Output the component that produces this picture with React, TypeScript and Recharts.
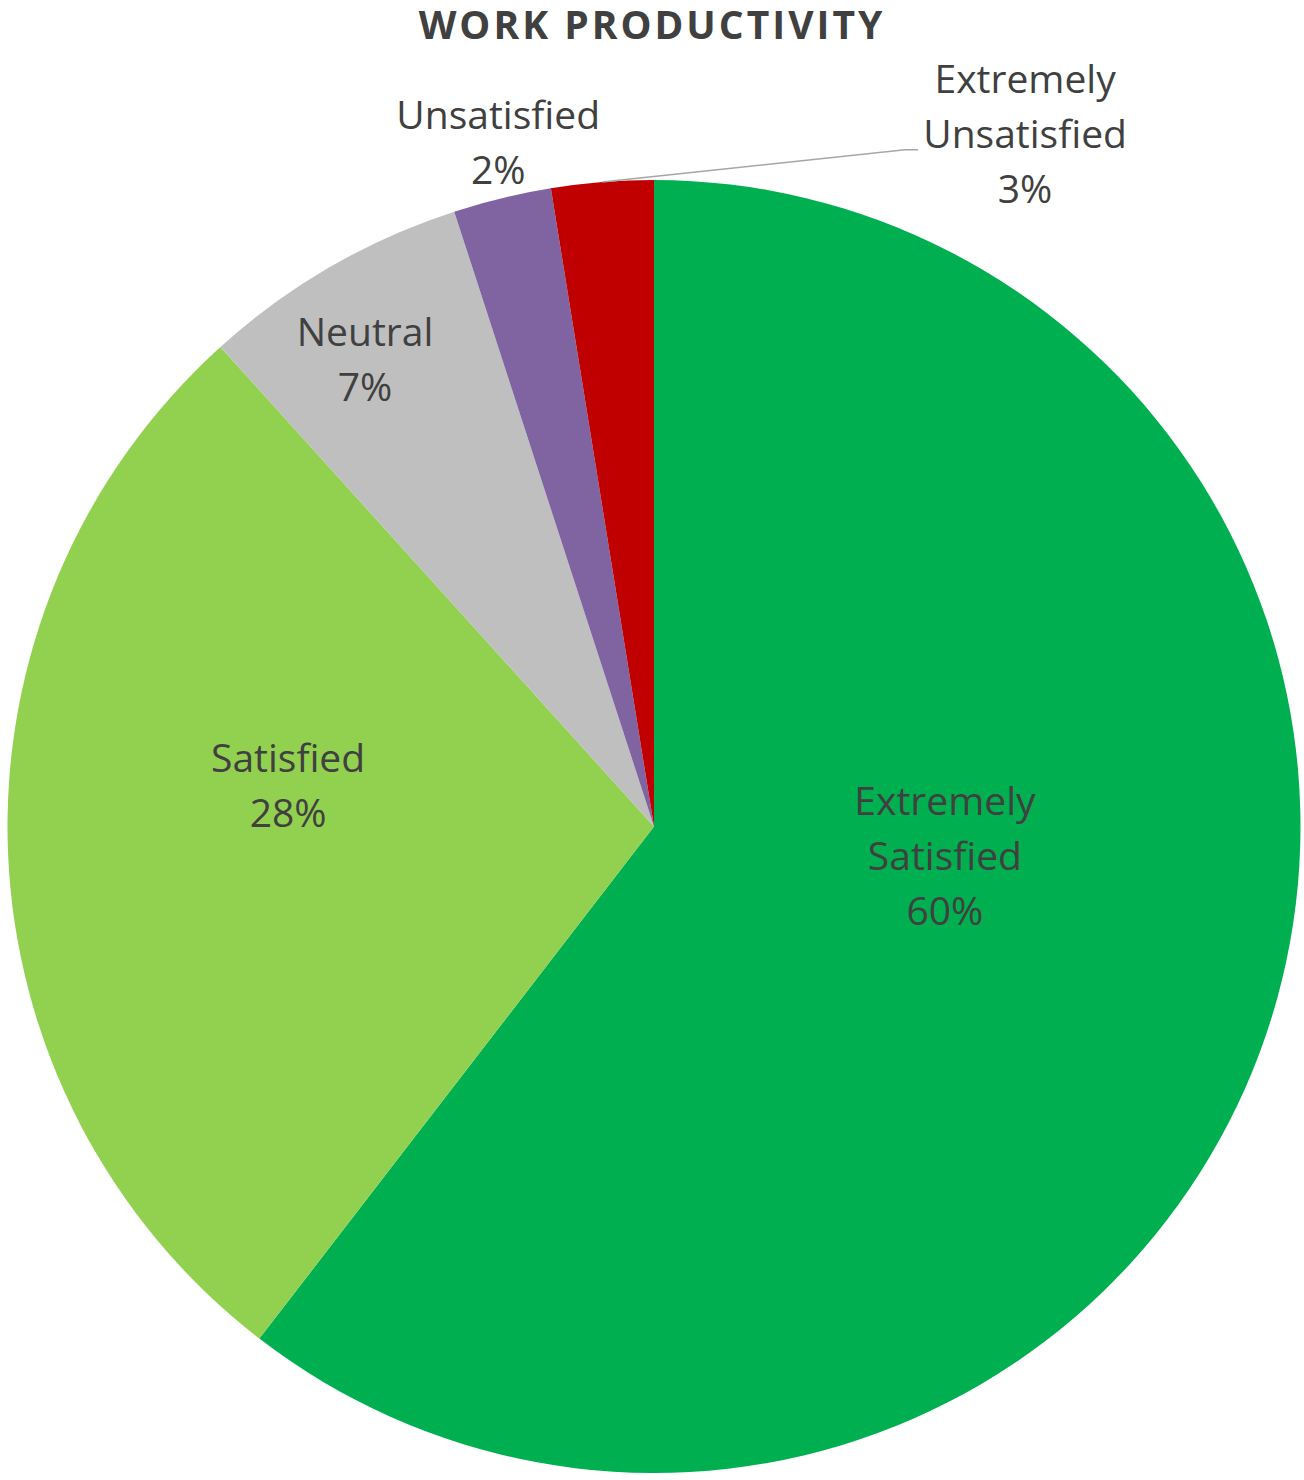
import React from 'react';
import { Cell, Pie, PieChart } from 'recharts';

const categories = ['Extremely Satisfied', 'Satisfied', 'Neutral', 'Unsatisfied', 'Extremely Unsatisfied'];
const labelLines = [['Extremely', 'Satisfied'], ['Satisfied'], ['Neutral'], ['Unsatisfied'], ['Extremely', 'Unsatisfied']];
const shares = [60.45, 27.85, 6.7, 2.45, 2.55];
const colors = ['#00B050', '#92D050', '#BFBFBF', '#8064A2', '#C00000'];

const data = categories.map((name, i) => ({ name, value: shares[i] }));
const total = shares.reduce((a, b) => a + b, 0);

// label block centres, as fractions of the outer radius from the pie centre
const labelPos = [
  [0.45, 0.044],
  [-0.566, -0.065],
  [-0.447, -0.725],
  [-0.241, -1.061],
  [0.574, -1.073],
];

const LINE_H = 55;
const RAD = Math.PI / 180;

function renderLabel(props: any) {
  const { cx, cy, outerRadius, index, midAngle, value } = props;
  const [fx, fy] = labelPos[index];
  const x = cx + fx * outerRadius;
  const y = cy + fy * outerRadius;
  const lines = [...labelLines[index], `${Math.round((value / total) * 100)}%`];
  const top = y - ((lines.length - 1) / 2) * LINE_H;
  let leader = null;
  if (index === 4) {
    const sx = cx + outerRadius * Math.cos(-midAngle * RAD);
    const sy = cy + outerRadius * Math.sin(-midAngle * RAD);
    const ex = x - 120;
    const ey = y + 17;
    leader = (
      <polyline points={`${sx},${sy} ${ex},${ey} ${ex + 13},${ey}`} fill="none" stroke="#A6A6A6" strokeWidth={1.5} />
    );
  }
  return (
    <g key={`lbl-${index}`}>
      {leader}
      <text x={x} y={top} textAnchor="middle" fill="#404040" fontSize={39} fontFamily="'Open Sans', sans-serif">
        {lines.map((t, i) => (
          <tspan key={i} x={x} y={top + i * LINE_H} dominantBaseline="central">
            {t}
          </tspan>
        ))}
      </text>
    </g>
  );
}

export default function App() {
  return (
    <div style={{ position: 'absolute', left: 0, top: 0, width: 1304, height: 1480, background: '#fff' }}>
      <div
        style={{
          position: 'absolute',
          top: 0,
          left: 0,
          width: 1304,
          textAlign: 'center',
          fontFamily: "'Open Sans', sans-serif",
          fontWeight: 700,
          fontSize: 39,
          letterSpacing: 3,
          lineHeight: '48px',
          color: '#404040',
        }}
      >
        WORK PRODUCTIVITY
      </div>
      <PieChart width={1304} height={1480} margin={{ top: 0, right: 0, bottom: 0, left: 0 }}>
        <Pie
          data={data}
          dataKey="value"
          nameKey="name"
          cx={654}
          cy={826.5}
          outerRadius={646.5}
          startAngle={90}
          endAngle={-270}
          stroke="none"
          label={renderLabel}
          labelLine={false}
          isAnimationActive={false}
        >
          {data.map((d, i) => (
            <Cell key={d.name} fill={colors[i]} />
          ))}
        </Pie>
      </PieChart>
    </div>
  );
}
